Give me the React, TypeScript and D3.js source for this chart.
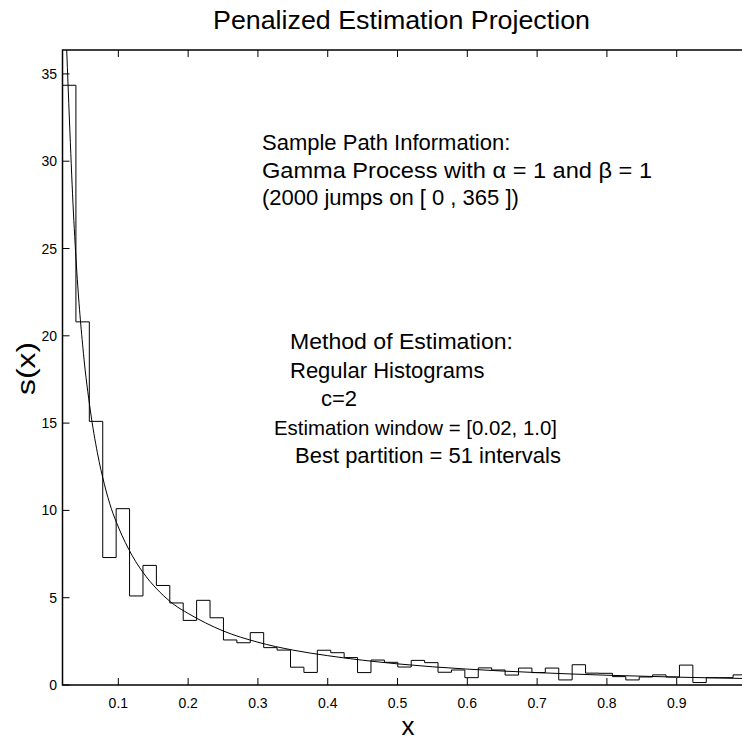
import React from 'react';
import * as d3 from 'd3';

// estimation window and number of regular bins
const binWindow = [0.02, 1.0];
const binCount = 51;

// histogram heights, one per bin
const binHeights = [
  34.35, 20.8, 15.1, 7.3, 10.1, 5.1, 6.85, 5.7, 4.7, 3.7,
  4.85, 3.85, 2.58, 2.42, 3.0, 2.14, 2.0, 1.02, 0.72, 1.99,
  1.85, 1.57, 0.71, 1.43, 1.3, 1.03, 1.41, 1.28, 0.73, 0.86,
  0.42, 0.98, 0.86, 0.57, 0.97, 0.71, 0.97, 0.29, 1.16, 0.68,
  0.67, 0.48, 0.29, 0.46, 0.58, 0.46, 1.14, 0.14, 0.42, 0.42,
  0.58,
];

// true density curve, sampled from the figure
const curveX = [0.026, 0.03, 0.035, 0.04, 0.05, 0.06, 0.07, 0.08, 0.09, 0.1, 0.12, 0.14, 0.16, 0.18, 0.2, 0.25, 0.3, 0.35, 0.4, 0.5, 0.6, 0.7, 0.8, 0.9, 1.0];
const curveY = [36.4, 32.3, 27.6, 24.0, 19.0, 15.7, 13.3, 11.5, 10.1, 9.05, 7.4, 6.2, 5.3, 4.6, 4.1, 3.1, 2.45, 2.0, 1.68, 1.21, 0.91, 0.71, 0.56, 0.45, 0.37];

const xTicks = [0.1, 0.2, 0.3, 0.4, 0.5, 0.6, 0.7, 0.8, 0.9];
const yTicks = [0, 5, 10, 15, 20, 25, 30, 35];

const infoLines = [
  'Sample Path Information:',
  'Gamma Process with \u03b1 = 1 and \u03b2 = 1',
  '(2000 jumps on [ 0 , 365 ])',
];
const methodLines = [
  'Method of Estimation:',
  'Regular Histograms',
  'c=2',
  'Estimation window = [0.02, 1.0]',
  'Best partition = 51 intervals',
];

const font = '"Liberation Sans", Arial, Helvetica, sans-serif';

export default function App() {
  const left = 62.5, right = 746.5, top = 50, bottom = 685;
  const x = d3.scaleLinear().domain(binWindow).range([left, right]);
  const y = d3.scaleLinear().domain([0, 36.37]).range([bottom, top]);

  const step = (binWindow[1] - binWindow[0]) / binCount;
  const stairPts: [number, number][] = binHeights.map((v, i) => [binWindow[0] + i * step, v]);
  stairPts.push([binWindow[1], binHeights[binHeights.length - 1]]);

  const stairs = d3.line<[number, number]>()
    .x(d => x(d[0]))
    .y(d => y(d[1]))
    .curve(d3.curveStepAfter)(stairPts);

  const density = d3.line<number>()
    .x((d, i) => x(curveX[i]))
    .y(d => y(d))
    .curve(d3.curveMonotoneX)(curveY);

  const methodX = [290, 290, 321, 274, 295];
  // widths of the lines that run wider or narrower than the font here
  const methodLen: Record<number, number> = { 0: 223, 3: 283 };
  const methodSize = [22, 22, 22, 21, 22];

  return (
    <svg width={742} height={742} style={{ position: 'absolute', left: 0, top: 0, background: '#fff' }}
      fontFamily={font}>
      <defs>
        <clipPath id="plot">
          <rect x={left} y={top} width={right - left} height={bottom - top} />
        </clipPath>
      </defs>
      <rect width={742} height={742} fill="#fff" />

      <g clipPath="url(#plot)" fill="none" stroke="#000" strokeWidth={1}>
        <path d={stairs || ''} />
        <path d={density || ''} />
      </g>

      {/* axes box */}
      <rect x={left} y={top} width={right - left} height={bottom - top} fill="none" stroke="#000" strokeWidth={1.5} />

      {xTicks.map(t => (
        <g key={'x' + t}>
          <line x1={x(t)} x2={x(t)} y1={bottom} y2={bottom - 7} stroke="#000" />
          <line x1={x(t)} x2={x(t)} y1={top} y2={top + 7} stroke="#000" />
          <text x={x(t)} y={708} fontSize={14} textAnchor="middle">{t.toFixed(1)}</text>
        </g>
      ))}
      {yTicks.map(t => (
        <g key={'y' + t}>
          <line x1={left} x2={left + 7} y1={y(t)} y2={y(t)} stroke="#000" />
          <text x={57} y={y(t) + 5} fontSize={14} textAnchor="end">{t}</text>
        </g>
      ))}

      <text x={401.5} y={29} fontSize={25} textAnchor="middle" textLength={377} lengthAdjust="spacingAndGlyphs">Penalized Estimation Projection</text>
      <text x={408} y={735} fontSize={26} textAnchor="middle">x</text>
      <text transform={`translate(35,${(top + bottom) / 2 + 1}) rotate(-90)`} fontSize={26} textAnchor="middle"
        textLength={53} lengthAdjust="spacingAndGlyphs">s(x)</text>

      {infoLines.map((s, i) => (
        <text key={s} x={262} y={150 + i * 27.5} fontSize={22}
          {...(i === 1 ? { textLength: 390, lengthAdjust: 'spacingAndGlyphs' } : {})}>{s}</text>
      ))}
      {methodLines.map((s, i) => (
        <text key={s} x={methodX[i]} y={349 + i * 28.5} fontSize={methodSize[i]}
          {...(methodLen[i] ? { textLength: methodLen[i], lengthAdjust: 'spacingAndGlyphs' } : {})}>{s}</text>
      ))}
    </svg>
  );
}
